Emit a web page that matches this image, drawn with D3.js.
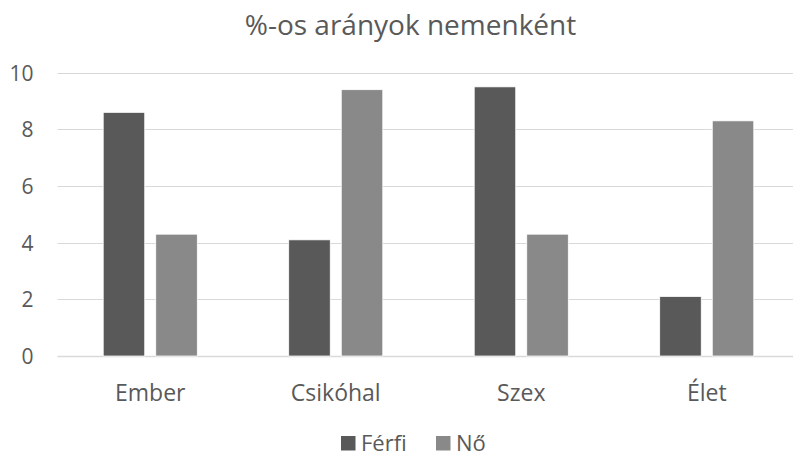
<!DOCTYPE html>
<html><head><meta charset="utf-8">
<script src="https://cdn.jsdelivr.net/npm/d3@7"></script>
<style>body{margin:0;background:#fff}svg{display:block}text{font-family:"Open Sans",sans-serif;fill:#595959}</style>
</head><body><svg id="c" width="793" height="455"></svg>
<script>
const categories = ["Ember", "Csikóhal", "Szex", "Élet"];
const seriesNames = ["Férfi", "Nő"];
const ferfi = [8.6, 4.1, 9.5, 2.1];
const no = [4.3, 9.4, 4.3, 8.3];
const yTicks = [0, 2, 4, 6, 8, 10];
const title = "%-os arányok nemenként";
const colors = ["#595959", "#898989"];

const svg = d3.select("#c");
const W = 793, H = 455;
const m = {left: 57.5, right: 799.5, top: 72.7, bottom: 356};
const x = d3.scaleBand().domain(categories).range([m.left, m.right]).paddingInner(0).paddingOuter(0);
const y = d3.scaleLinear().domain([0, 10]).range([m.bottom, m.top]);
const x1 = d3.scaleBand().domain(seriesNames).range([0, x.bandwidth()]).paddingInner(0.21).paddingOuter(0.87);

// gridlines
svg.append("g").selectAll("line").data(yTicks).join("line")
  .attr("x1", m.left).attr("x2", W).attr("y1", d => Math.round(y(d)) + 0.5).attr("y2", d => Math.round(y(d)) + 0.5)
  .attr("stroke", "#d9d9d9").attr("stroke-width", d => d === 0 ? 1.5 : 1);

// y tick labels
const yAxis = d3.axisLeft(y).tickValues(yTicks).tickSize(0).tickPadding(0);
const ga = svg.append("g").attr("transform", `translate(33.5,0)`).call(yAxis);
ga.select(".domain").remove();
ga.selectAll("text").style("font-family", '"Open Sans",sans-serif').style("font-size", "21px").attr("fill", "#595959").attr("dy", "0.36em");

// bars
const data = categories.map((c, i) => ({c, vals: [ferfi[i], no[i]]}));
const groups = svg.append("g").selectAll("g").data(data).join("g").attr("transform", d => `translate(${x(d.c)},0)`);
groups.selectAll("rect").data(d => d.vals.map((v, j) => ({s: seriesNames[j], v, j}))).join("rect")
  .attr("x", d => x1(d.s)).attr("width", x1.bandwidth())
  .attr("y", d => y(d.v)).attr("height", d => y(0) - y(d.v))
  .attr("fill", d => colors[d.j]).attr("stroke", "#ffffff").attr("stroke-width", 0.75);

// x axis labels
const xAxis = d3.axisBottom(x).tickSize(0).tickPadding(0);
const gx = svg.append("g").attr("transform", `translate(0,401)`).call(xAxis);
gx.select(".domain").remove();
gx.selectAll("text").style("font-family", '"Open Sans",sans-serif').style("font-size", "23px").attr("fill", "#595959").attr("dy", "0").attr("y", 0);

// title
svg.append("text").attr("x", 410.5).attr("y", 35).attr("text-anchor", "middle")
  .style("font-size", "28px").text(title);

// legend
const leg = svg.append("g");
const lx = [341, 436];
seriesNames.forEach((s, i) => {
  leg.append("rect").attr("x", lx[i]).attr("y", 436).attr("width", 14.5).attr("height", 14.5).attr("fill", colors[i]);
  leg.append("text").attr("x", lx[i] + 20).attr("y", 450.5).style("font-size", "22px").text(s);
});
</script></body></html>
